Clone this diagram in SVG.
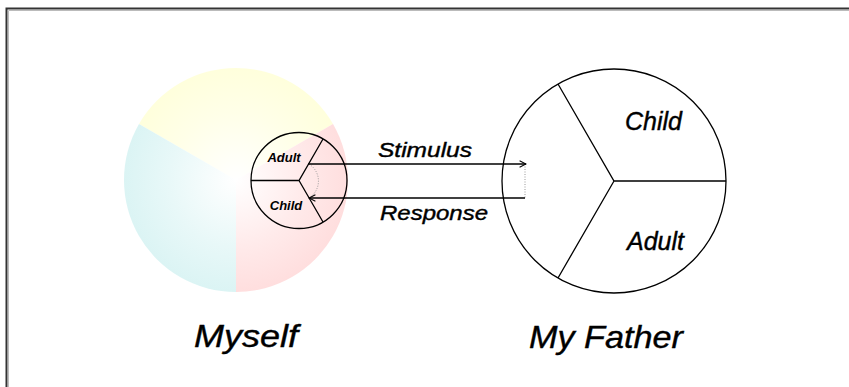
<svg xmlns="http://www.w3.org/2000/svg" width="849" height="387" viewBox="0 0 849 387">
<style>
.ln{fill:none;stroke:#000;stroke-width:1.3}
.dot{fill:none;stroke:#999;stroke-width:1;stroke-dasharray:1 1.5}
.t{font-family:"Liberation Sans",Arial,sans-serif;font-style:italic;fill:#000;stroke:#000;stroke-width:0.4}
.sm{font-size:13px;font-weight:bold;stroke-width:0}
</style>
<defs>
<radialGradient id="gy" cx="236" cy="180" r="112" gradientUnits="userSpaceOnUse"><stop offset="0" stop-color="#fff"/><stop offset="0.6" stop-color="#ffffe8"/><stop offset="1" stop-color="#ffffdc"/></radialGradient>
<radialGradient id="gr" cx="236" cy="180" r="112" gradientUnits="userSpaceOnUse"><stop offset="0" stop-color="#fff"/><stop offset="0.6" stop-color="#ffeaea"/><stop offset="1" stop-color="#ffdede"/></radialGradient>
<radialGradient id="gc" cx="236" cy="180" r="112" gradientUnits="userSpaceOnUse"><stop offset="0" stop-color="#fff"/><stop offset="0.6" stop-color="#e8f8f8"/><stop offset="1" stop-color="#dbf4f4"/></radialGradient>
<marker id="ah" viewBox="0 0 10 10" refX="9" refY="5" markerWidth="8" markerHeight="8" markerUnits="userSpaceOnUse" orient="auto"><path d="M1,1 L9,5 L1,9" fill="none" stroke="#000" stroke-width="1.3"/></marker>
</defs>
<rect x="0" y="0" width="849" height="387" fill="#fff"/>
<path d="M6.5,387 V8.5 H849" fill="none" stroke="#333" stroke-width="2"/>
<path d="M8.5,387 V10.5 H849" fill="none" stroke="#bbb" stroke-width="1"/>
<g id="myself">
<path d="M236,180 L139,124 A112,112 0 0 1 333,124 Z" fill="url(#gy)"/>
<path d="M236,180 L333,124 A112,112 0 0 1 236,292 Z" fill="url(#gr)"/>
<path d="M236,180 L236,292 A112,112 0 0 1 139,124 Z" fill="url(#gc)"/>
<circle cx="299" cy="180.5" r="48" fill="#fff" class="ln"/>
<path d="M251,180.5 H299 L323,139 M299,180.5 L323,222" class="ln"/>
<text x="284" y="162" class="t sm" text-anchor="middle">Adult</text>
<text x="286" y="210" class="t sm" text-anchor="middle">Child</text>
<text x="194" y="347" class="t" font-size="31" textLength="104" lengthAdjust="spacingAndGlyphs">Myself</text>
</g>
<g id="father">
<circle cx="614" cy="181" r="112" fill="#fff" class="ln"/>
<path d="M726,181 H614 L558,84 M614,181 L558,278" class="ln"/>
<text x="625" y="130" class="t" font-size="25" textLength="57" lengthAdjust="spacingAndGlyphs">Child</text>
<text x="627" y="250" class="t" font-size="25" textLength="57" lengthAdjust="spacingAndGlyphs">Adult</text>
<text x="529" y="348" class="t" font-size="32" textLength="154" lengthAdjust="spacingAndGlyphs">My Father</text>
</g>
<g id="connectors">
<path d="M309,164 A20,20 0 0 1 309,198" class="dot"/>
<path d="M525,164 V198" class="dot"/>
<path d="M308,164 H526" class="ln" marker-end="url(#ah)"/>
<path d="M525,198 H309" class="ln" marker-end="url(#ah)"/>
<text x="378" y="157" class="t" font-size="21" textLength="94" lengthAdjust="spacingAndGlyphs">Stimulus</text>
<text x="380" y="220" class="t" font-size="21" textLength="108" lengthAdjust="spacingAndGlyphs">Response</text>
</g>
</svg>
